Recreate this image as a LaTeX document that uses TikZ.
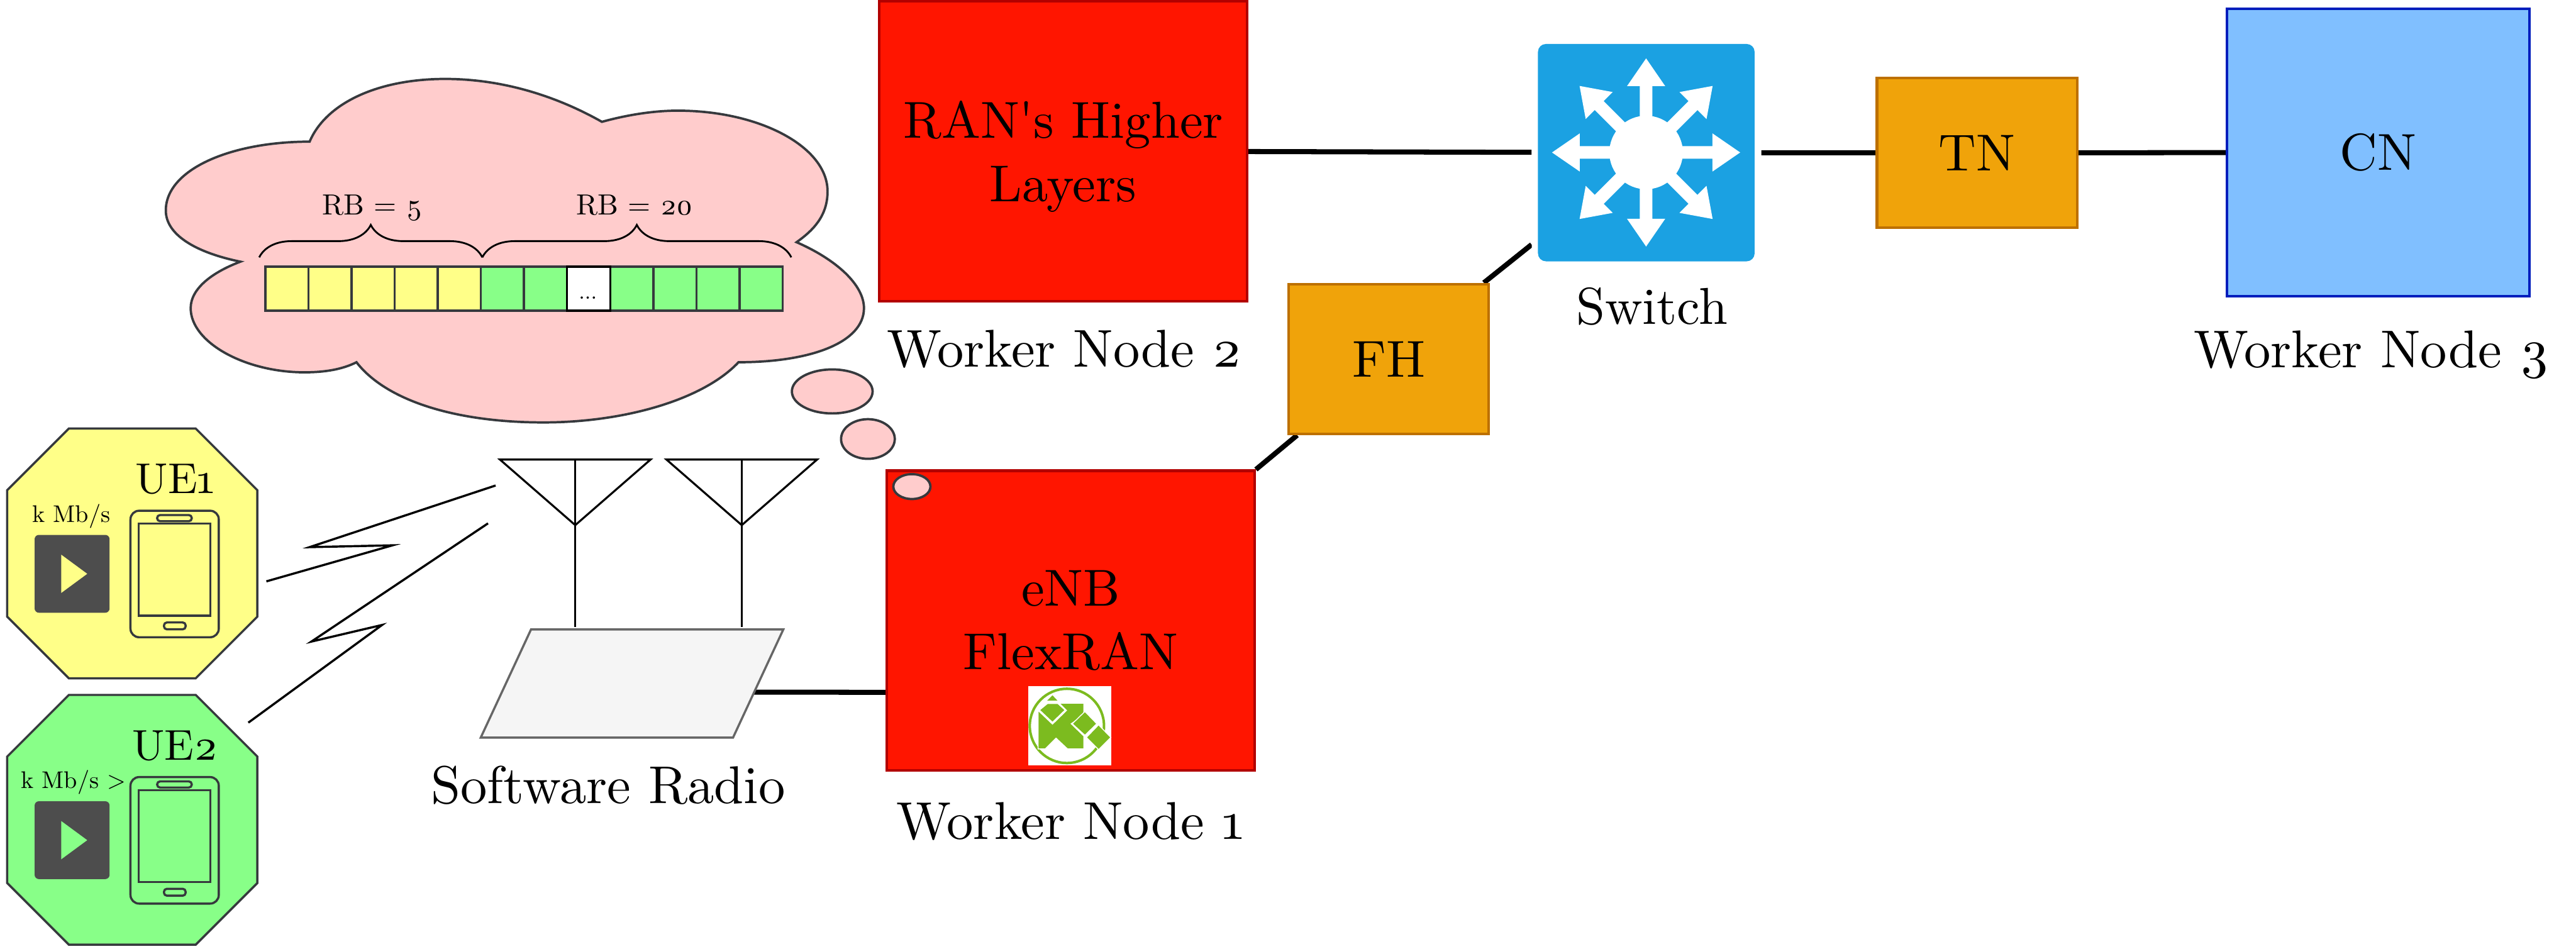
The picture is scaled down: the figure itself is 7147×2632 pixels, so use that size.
\documentclass[tikz,border=0pt]{standalone}
\usepackage{fontspec}
\setmainfont{Latin Modern Roman}[Numbers=OldStyle, OpticalSize=10]
\usetikzlibrary{shapes.geometric, positioning, backgrounds, decorations.pathreplacing}
\definecolor{ranred}{HTML}{FF1500}
\definecolor{ranedge}{HTML}{B20000}
\definecolor{netorange}{HTML}{F0A30A}
\definecolor{netedge}{HTML}{BD7000}
\definecolor{coreblue}{HTML}{80BFFF}
\definecolor{coreedge}{HTML}{001DBC}
\definecolor{switchblue}{HTML}{1BA1E2}
\definecolor{ueyellow}{HTML}{FFFF88}
\definecolor{uegreen}{HTML}{88FF88}
\definecolor{cloudpink}{HTML}{FFCCCC}
\definecolor{darkline}{HTML}{36393D}
\definecolor{playgrey}{HTML}{4D4D4D}
\definecolor{radiogrey}{HTML}{F5F5F5}
\definecolor{radioedge}{HTML}{666666}
\definecolor{logogreen}{HTML}{7CBB1F}
\newcommand{\bigfont}{\fontsize{41}{50}\selectfont}

\begin{document}
\begin{tikzpicture}[
                x=0.1mm, y=-0.1mm,
                box/.style={rectangle, draw, line width=0.7mm, inner sep=0pt, align=center, font=\bigfont},
                ranbox/.style={box, draw=ranedge, fill=ranred, minimum width=102mm, minimum height=83.2mm},
                netbox/.style={box, draw=netedge, fill=netorange, minimum width=55.5mm, minimum height=41.6mm},
                caption/.style={inner sep=0pt, font=\fontsize{42}{50}\selectfont},
                link/.style={line width=1.4mm},
                bolt/.style={line width=0.6mm, miter limit=20},
                antenna/.style={line width=0.55mm},
                bubble/.style={ellipse, draw=darkline, fill=cloudpink, line width=0.65mm, inner sep=0pt},
                rbcell/.style={rectangle, draw=darkline, line width=0.6mm, inner sep=0pt,
                            minimum width=11.96mm, minimum height=12.2mm},
                brace/.style={decorate, decoration={brace, amplitude=9mm}, line width=0.5mm},
                outline/.style={draw=darkline, line width=0.6mm}
            ]
                \useasboundingbox (0,0) rectangle (7147,2632);

                % thought cloud
                \draw[draw=darkline, fill=cloudpink, line width=0.65mm]
                    (859,393) .. controls (905,285) and (1050,219) .. (1235,219)
                    .. controls (1400,219) and (1550,270) .. (1670,338)
                    .. controls (1735,320) and (1810,307) .. (1880,307)
                    .. controls (2109,307) and (2296,408) .. (2296,531)
                    .. controls (2296,600) and (2255,640) .. (2210,672)
                    .. controls (2320,720) and (2397,790) .. (2397,855)
                    .. controls (2397,950) and (2250,1005) .. (2049,1005)
                    .. controls (1950,1110) and (1730,1172) .. (1508,1172)
                    .. controls (1260,1172) and (1070,1110) .. (989,1005)
                    .. controls (950,1025) and (900,1033) .. (845,1033)
                    .. controls (680,1033) and (529,950) .. (529,855)
                    .. controls (529,800) and (590,755) .. (667,726)
                    .. controls (540,700) and (460,650) .. (460,584)
                    .. controls (460,470) and (640,393) .. (859,393) -- cycle;
                \node[bubble, minimum width=22.4mm, minimum height=12.2mm] (bubble1) at (2309,1086) {};
                \node[bubble, minimum width=14.9mm, minimum height=11mm] (bubble2) at (2408,1218) {};

                % resource blocks
                \foreach \i in {0,...,4}
                    \node[rbcell, fill=ueyellow] (rb\i) at ({796+119.6*\i},801) {};
                \foreach \i in {5,6,8,9,10,11}
                    \node[rbcell, fill=uegreen] (rb\i) at ({796+119.6*\i},801) {};
                \node[rbcell, fill=white, draw=black] (rb7) at ({796+119.6*7},801) {};
                \node[anchor=base, inner sep=0pt, font=\fontsize{17}{20}\selectfont] (rbdots) at (1631,829) {...};
                \draw[brace] ([shift={(-14,-23)}]rb0.north west) -- ([shift={(1,-23)}]rb4.north east);
                \draw[brace] ([shift={(1,-23)}]rb4.north east) -- ([shift={(21,-23)}]rb11.north east);
                \node[anchor=base, inner sep=0pt, font=\fontsize{23}{28}\selectfont] (rbfive) at (1033,595) {RB = 5};
                \node[anchor=base, inner sep=0pt, font=\fontsize{23}{28}\selectfont] (rbtwenty) at (1761,595) {RB = 20};

                % main nodes
                \node[ranbox, text depth=0pt] (ran) at (2950,419) {RAN\textquotesingle s Higher\\Layers};
                \node[ranbox] (enb) at (2971,1722) {eNB\\FlexRAN};
                \node[netbox] (fh) at (3853,996) {FH};
                \node[netbox] (tn) at (5485,424) {TN};
                \node[box, draw=coreedge, fill=coreblue, minimum width=83.8mm, minimum height=79.7mm] (cn) at (6598,423) {CN};
                \node[rectangle, xslant=0.465, transform shape, draw=radioedge, fill=radiogrey, line width=0.6mm,
                    inner sep=0pt, minimum width=70mm, minimum height=30mm] (sdr) at (1753.5,1896.5) {};
                \node[bubble, minimum width=10.3mm, minimum height=6.9mm] (bubble3) at (2530,1350) {};

                % flexran logo
                \node[rectangle, fill=white, inner sep=0pt, minimum width=23.1mm, minimum height=21.9mm] (logo) at (2967.5,2013.5) {};
                \draw[logogreen, line width=0.7mm] (2960,2014) circle (10.3mm);
                \fill[logogreen, draw=white, line width=0.25mm] (2880,1971) -- (2920,2009) -- (2959,1971) -- (2939,1951)
                    -- (3007,1951) -- (3007,1984) -- (2972,2008) -- (3007,2042) -- (3007,2078) -- (2962,2078)
                    -- (2930,2048) -- (2900,2078) -- (2880,2078) -- cycle;
                \fill[logogreen, draw=white, line width=0.25mm] (2884,1970) -- (2906,1952) -- (2935,1952) -- (2955,1970) -- (2920,2004) -- cycle;
                \fill[logogreen] (2905,1944) -- (2920,1929) -- (2934,1944) -- cycle;
                \fill[logogreen, draw=white, line width=0.25mm] (3010,1974) -- (3043,2008) -- (3010,2040) -- (2975,2008) -- cycle;
                \fill[logogreen, draw=white, line width=0.25mm] (3048,2011) -- (3082,2046) -- (3048,2080) -- (3014,2046) -- cycle;

                % switch
                \node[rectangle, fill=white, rounded corners=4mm, minimum width=63.6mm, minimum height=63.7mm] (switch) at (4568,423.5) {};
                \node[rectangle, fill=switchblue, rounded corners=2.2mm, minimum width=60.1mm, minimum height=60.3mm] (swbody) at (4567.5,423.5) {};
                \foreach \ang in {0,45,...,315}
                    \fill[white, shift={(4567,423)}, rotate=\ang] (0,-17.5) -- (184,-17.5) -- (184,-53)
                        -- (261,0) -- (184,53) -- (184,17.5) -- (0,17.5) -- cycle;
                \fill[white] (4567,423) circle (10.2mm);

                % captions
                \node[caption, below=8.4mm of enb, xshift=-0.2mm] (worker1) {Worker Node 1};
                \node[caption, below=7.7mm of ran, xshift=0.3mm] (worker2) {Worker Node 2};
                \node[caption, below=9.1mm of cn, xshift=-1.8mm] (worker3) {Worker Node 3};
                \node[caption, font=\bigfont, below=5.5mm of switch, xshift=1.5mm] (swlabel) {Switch};
                \node[caption, below=7.5mm of sdr, xshift=0.5mm] (sdrlabel) {Software Radio};

                % user equipments
                \foreach \ue/\ueoff/\uecol/\uex/\uerate in {1/0/ueyellow/198/{k Mb/s}, 2/739/uegreen/204/{k Mb/s >}} {
                    \begin{scope}[shift={(0,\ueoff)}]
                        \draw[outline, fill=\uecol] (191,1189) -- (543,1189) -- (714,1360) -- (714,1711)
                            -- (543,1882) -- (191,1882) -- (20,1711) -- (20,1360) -- cycle;
                        \node[anchor=base, inner sep=0pt, font=\fontsize{34}{40}\selectfont] (uename\ue) at (486,1369) {UE\ue};
                        \node[anchor=base, inner sep=0pt, font=\fontsize{19}{24}\selectfont] (uerate\ue) at (\uex,1449) {\uerate};
                        \fill[playgrey, rounded corners=1.2mm] (96,1484) rectangle (304,1700);
                        \fill[\uecol] (170,1539) -- (242,1592) -- (170,1645) -- cycle;
                        \draw[outline, rounded corners=2.4mm] (362,1417) rectangle (607,1768);
                        \draw[outline] (385,1453) rectangle (584,1708);
                        \draw[outline, rounded corners=0.8mm] (436,1429) rectangle (532,1446);
                        \draw[outline, rounded corners=0.8mm] (455,1727) rectangle (515,1746);
                    \end{scope}
                }

                % antennas
                \foreach \antx in {1596,2058} {
                    \draw[antenna] ({\antx-209},1275) -- ({\antx+209},1275) -- (\antx,1457) -- cycle;
                    \draw[antenna] (\antx,1275) -- (\antx,1739);
                }

                % radio links
                \coordinate (ue1end) at (739,1613);
                \coordinate (ant1end) at (1375,1347);
                \coordinate (ue2end) at (689,2005);
                \coordinate (ant2end) at (1354,1452);
                \draw[bolt] (ue1end) -- (1089,1513) -- (859,1518) -- (ant1end);
                \draw[bolt] (ue2end) -- (1060,1734) -- (864,1780) -- (ant2end);

                % wired links
                \coordinate (sdrport) at (1900,1920);
                \coordinate (enbport) at (2600,1921);
                \begin{scope}[on background layer]
                    \draw[link] (ran) -- (switch);
                    \draw[link] (switch) -- (tn);
                    \draw[link] (tn) -- (cn);
                    \draw[link] (enb.north east) -- (fh);
                    \draw[link] (fh) -- (switch);
                    \draw[link] (sdrport) -- (enbport);
                \end{scope}
            \end{tikzpicture}
\end{document}
